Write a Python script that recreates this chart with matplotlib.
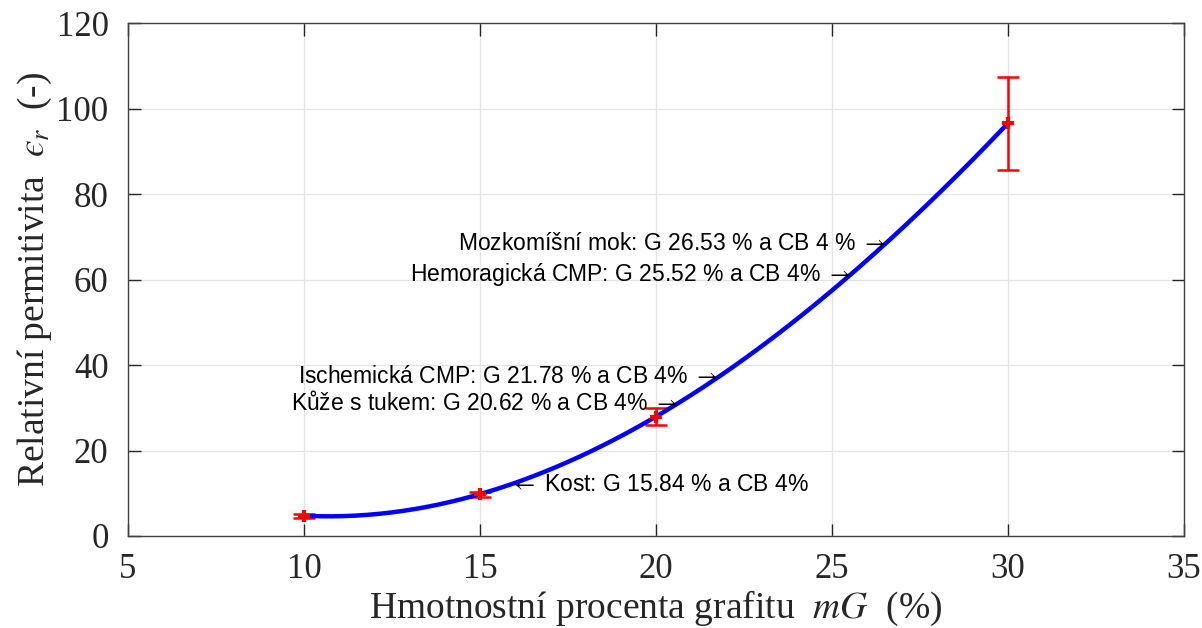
import numpy as np
import matplotlib
matplotlib.use("Agg")
import matplotlib.pyplot as plt

# measured permittivity vs. graphite weight percent
mg = [10, 15, 20, 30]
eps_mean = [4.75, 9.8, 27.95, 96.6]
eps_err = [0.5, 0.6, 1.95, 10.9]

# tissue targets (graphite %), label text and which side the arrow points from
tissue_g = [26.53, 25.52, 21.78, 20.62, 15.84]
tissue_lbl = ['Mozkomíšní mok: G 26.53 % a CB 4 % $\\rightarrow$',
              'Hemoragická CMP: G 25.52 % a CB 4% $\\rightarrow$',
              'Ischemická CMP: G 21.78 % a CB 4% $\\rightarrow$',
              'Kůže s tukem: G 20.62 % a CB 4% $\\rightarrow$',
              '$\\leftarrow$ Kost: G 15.84 % a CB 4%']
tissue_ha = ['right', 'right', 'right', 'right', 'left']

plt.rcParams['font.family'] = ['Liberation Serif', 'DejaVu Serif']
plt.rcParams['mathtext.fontset'] = 'stix'

fig = plt.figure(figsize=(12.02, 6.28), dpi=100)
ax = fig.add_axes([0.1065, 0.1465, 0.8785, 0.8165])

# cubic fit through the measured means
coef = np.polyfit(mg, eps_mean, 3)
xf = np.linspace(mg[0], mg[-1], 300)

ax.errorbar(mg, eps_mean, yerr=eps_err, fmt='none', ecolor='#ff0000',
            elinewidth=1.8, capsize=8, capthick=1.8, zorder=3)
ax.plot(xf, np.polyval(coef, xf), color='#0000ff', lw=3.2, zorder=4)
ax.plot(mg, eps_mean, '+', color='#ff0000', ms=9, mew=3, zorder=5)

for g, lbl, ha in zip(tissue_g, tissue_lbl, tissue_ha):
    ax.text(g, np.polyval(coef, g), lbl, ha=ha, va='center', fontsize=16.5,
            family=['Liberation Sans', 'DejaVu Sans'], color='#000000', zorder=6)

ax.set_xlim(5, 35)
ax.set_ylim(0, 120)
ax.set_xticks(np.arange(5, 36, 5))
ax.set_yticks(np.arange(0, 121, 20))
ax.grid(True, color='#e4e4e4', lw=0.9)
ax.set_axisbelow(True)
ax.tick_params(direction='in', length=9, width=1, labelsize=25, colors='#262626',
               top=True, right=True)
ax.tick_params(axis='x', pad=12)
ax.tick_params(axis='y', pad=14)
for s in ax.spines.values():
    s.set_color('#404040')
    s.set_linewidth(1.0)

ax.set_xlabel('Hmotnostní procenta grafitu  $mG$  (%)', fontsize=27, color='#262626', labelpad=2)
ax.set_ylabel('Relativní permitivita  $\u03f5_r$  (-)', fontsize=27, color='#262626', labelpad=2)

fig.savefig('out.png', dpi=100)
